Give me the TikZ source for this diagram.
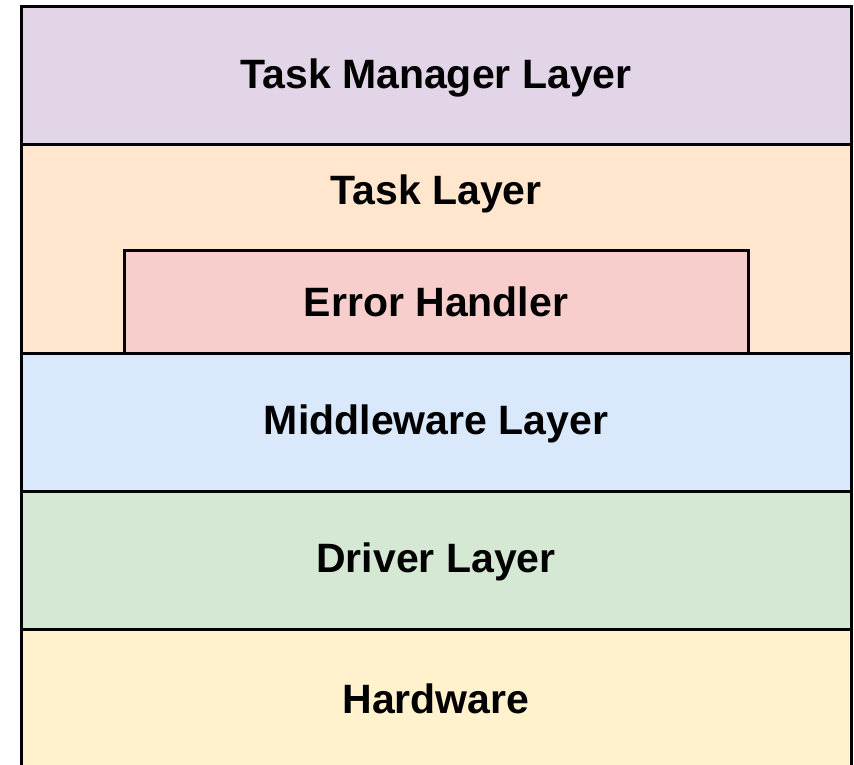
\documentclass[tikz,border=0pt]{standalone}
\usepackage{fontspec}
\setmainfont{Liberation Sans}
\definecolor{mgrpurple}{HTML}{E1D5E7}
\definecolor{taskorange}{HTML}{FFE6CC}
\definecolor{errred}{HTML}{F8CECC}
\definecolor{midblue}{HTML}{DAE8FC}
\definecolor{drvgreen}{HTML}{D5E8D4}
\definecolor{hwyellow}{HTML}{FFF2CC}
\begin{document}
\begin{tikzpicture}[x=1pt,y=-1pt,
  band/.style={draw=black,line width=3pt},
  lbl/.style={font=\fontsize{41}{41}\selectfont\bfseries,text=black}]
\useasboundingbox[fill=white] (0,0) rectangle (854,765);
\begin{scope}
\clip (0,0) rectangle (854,765);
% stacked layers, top to bottom
\filldraw[band,fill=mgrpurple] (21,7) rectangle (851,145);
\filldraw[band,fill=taskorange] (21,145) rectangle (851,353);
\filldraw[band,fill=errred] (124,250) rectangle (748,353);
\filldraw[band,fill=midblue] (21,353) rectangle (851,491);
\filldraw[band,fill=drvgreen] (21,491) rectangle (851,629);
\filldraw[band,fill=hwyellow] (21,629) rectangle (851,768);
\end{scope}
% layer captions
\node[lbl] (mgr) at (436,78) {Task Manager Layer};
\node[lbl] (task) at (436,194) {Task Layer};
\node[lbl] (err) at (436,302) {Error Handler};
\node[lbl] (mid) at (436,424) {Middleware Layer};
\node[lbl] (drv) at (436,562) {Driver Layer};
\node[lbl] (hw) at (436,699) {Hardware};
\end{tikzpicture}
\end{document}
